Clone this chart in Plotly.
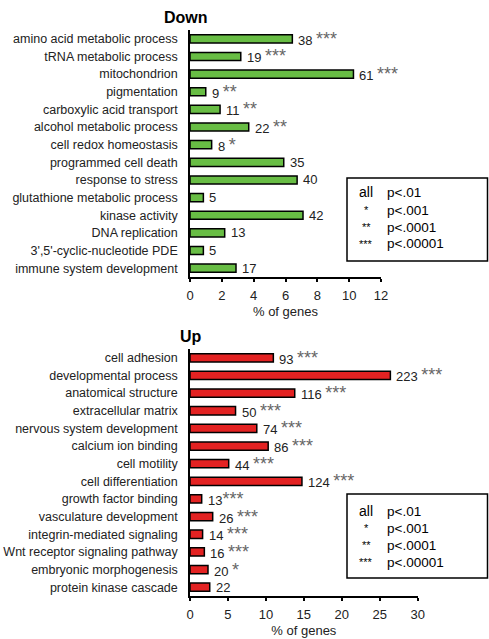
import plotly.graph_objects as go

# ---------------- data ----------------
down_terms = ["amino acid metabolic process", "tRNA metabolic process", "mitochondrion",
              "pigmentation", "carboxylic acid transport", "alcohol metabolic process",
              "cell redox homeostasis", "programmed cell death", "response to stress",
              "glutathione metabolic process", "kinase activity", "DNA replication",
              "3',5'-cyclic-nucleotide PDE", "immune system development"]
down_pct = [6.43, 3.19, 10.27, 0.99, 1.89, 3.69, 1.36, 5.89, 6.73, 0.84, 7.10, 2.18, 0.84, 2.89]
down_counts = [38, 19, 61, 9, 11, 22, 8, 35, 40, 5, 42, 13, 5, 17]
down_stars = ["***", "***", "***", "**", "**", "**", "*", "", "", "", "", "", "", ""]

up_terms = ["cell adhesion", "developmental process", "anatomical structure",
            "extracellular matrix", "nervous system development", "calcium ion binding",
            "cell motility", "cell differentiation", "growth factor binding",
            "vasculature development", "integrin-mediated signaling",
            "Wnt receptor signaling pathway", "embryonic morphogenesis", "protein kinase cascade"]
up_pct = [10.98, 26.40, 13.80, 6.00, 8.80, 10.30, 5.10, 14.75, 1.54, 2.99, 1.66, 1.89, 2.37, 2.60]
up_counts = [93, 223, 116, 50, 74, 86, 44, 124, 13, 26, 14, 16, 20, 22]
up_stars = ["***", "***", "***", "***", "***", "***", "***", "***", "***", "***", "***", "***", "*", ""]

down_ticks = [0, 2, 4, 6, 8, 10, 12]
up_ticks = [0, 5, 10, 15, 20, 25, 30]

legend_keys = ["all", "*", "**", "***"]
legend_vals = ["p<.01", "p<.001", "p<.0001", "p<.00001"]

# ---------------- style ----------------
W, H = 489, 639
FONT = "Liberation Sans, Arial, sans-serif"
GREEN = "#68BD44"
RED = "#E32222"
TXT = "#222222"
STAR = "#666666"

def px_x(p):
    return p / W

def px_y(p):
    return 1 - p / H

fig = go.Figure()

fig.add_trace(go.Bar(x=down_pct, y=down_terms, orientation="h", xaxis="x", yaxis="y",
                     marker=dict(color=GREEN, line=dict(color="black", width=1.5)),
                     width=0.46, showlegend=False, hoverinfo="x+y"))
fig.add_trace(go.Bar(x=up_pct, y=up_terms, orientation="h", xaxis="x2", yaxis="y2",
                     marker=dict(color=RED, line=dict(color="black", width=1.5)),
                     width=0.47, showlegend=False, hoverinfo="x+y"))

annotations = []

def bar_labels(terms, pct, counts, stars, xref, yref):
    for t, v, c, s in zip(terms, pct, counts, stars):
        txt = f"{c}"
        if s:
            sep = "" if c == 13 else " "
            txt += sep + f"<span style='font-size:18px;color:{STAR}'>{s}</span>"
        annotations.append(dict(x=v, y=t, xref=xref, yref=yref, text=txt, showarrow=False,
                                xanchor="left", yanchor="middle", xshift=4, yshift=0,
                                font=dict(family=FONT, size=13, color=TXT)))

bar_labels(down_terms, down_pct, down_counts, down_stars, "x", "y")
bar_labels(up_terms, up_pct, up_counts, up_stars, "x2", "y2")

# titles
annotations.append(dict(x=px_x(186), y=px_y(17), xref="paper", yref="paper", text="<b>Down</b>",
                        showarrow=False, xanchor="center", yanchor="middle",
                        font=dict(family=FONT, size=16, color="black")))
annotations.append(dict(x=px_x(191), y=px_y(336), xref="paper", yref="paper", text="<b>Up</b>",
                        showarrow=False, xanchor="center", yanchor="middle",
                        font=dict(family=FONT, size=16, color="black")))

# significance legends
for rows_y in ([192, 210, 227, 244], [511, 528, 545, 562]):
    for k, v, yy in zip(legend_keys, legend_vals, rows_y):
        annotations.append(dict(x=px_x(366), y=px_y(yy), xref="paper", yref="paper", text=k,
                                showarrow=False, xanchor="center", yanchor="middle",
                                font=dict(family=FONT, size=14 if k == "all" else 11, color="black")))
        annotations.append(dict(x=px_x(385), y=px_y(yy), xref="paper", yref="paper", text=v,
                                showarrow=False, xanchor="left", yanchor="middle",
                                font=dict(family=FONT, size=13.5, color="black")))

shapes = [
    dict(type="rect", xref="paper", yref="paper", x0=px_x(347), x1=px_x(487.5),
         y0=px_y(178), y1=px_y(261), line=dict(color="black", width=1.5)),
    dict(type="rect", xref="paper", yref="paper", x0=px_x(347), x1=px_x(487.5),
         y0=px_y(494), y1=px_y(578), line=dict(color="black", width=1.5)),
]

xdom1 = [px_x(190), px_x(381)]
xdom2 = [px_x(190), px_x(417.7)]
ydom1 = [px_y(277), px_y(30)]
ydom2 = [px_y(596), px_y(349)]

common_x = dict(showline=True, linecolor="black", linewidth=1.5, ticks="outside", ticklen=3,
                tickwidth=1.5, tickcolor="black", showgrid=False, zeroline=False, automargin=False,
                ticklabelstandoff=3,
                tickfont=dict(family=FONT, size=13, color=TXT), fixedrange=True)
common_y = dict(showline=True, linecolor="black", linewidth=1.5, ticks="", showgrid=False,
                zeroline=False, type="category", ticklabelstandoff=8, automargin=False,
                tickfont=dict(family=FONT, size=12.5, color=TXT), fixedrange=True)
overlay_x = dict(side="bottom", ticks="inside", ticklen=3, tickwidth=1.5, tickcolor="black",
                 showticklabels=False, showline=False, showgrid=False, zeroline=False,
                 automargin=False, fixedrange=True)

fig.update_layout(
    template="none",
    width=W, height=H, margin=dict(l=0, r=0, t=0, b=0, pad=0),
    paper_bgcolor="white", plot_bgcolor="white",
    font=dict(family=FONT, size=13, color=TXT),
    xaxis=dict(domain=xdom1, anchor="y", range=[0, 12], tickvals=down_ticks,
               title=dict(text="% of genes", standoff=5, font=dict(family=FONT, size=13, color=TXT)),
               **common_x),
    yaxis=dict(domain=ydom1, anchor="x", range=[13.5, -0.5], categoryorder="array",
               categoryarray=down_terms, **common_y),
    xaxis2=dict(domain=xdom2, anchor="y2", range=[0, 30], tickvals=up_ticks,
                title=dict(text="% of genes", standoff=5, font=dict(family=FONT, size=13, color=TXT)),
                **common_x),
    yaxis2=dict(domain=ydom2, anchor="x2", range=[13.5, -0.5], categoryorder="array",
                categoryarray=up_terms, **common_y),
    # overlay axes providing the inward half of the crossing ticks
    xaxis3=dict(overlaying="x", matches="x", anchor="y", tickvals=down_ticks, **overlay_x),
    xaxis4=dict(overlaying="x2", matches="x2", anchor="y2", tickvals=up_ticks, **overlay_x),
    annotations=annotations,
    shapes=shapes,
)

fig.write_html("out.html", config={"displayModeBar": False},
               post_script="document.body.style.margin='0';document.body.style.overflow='hidden';")
